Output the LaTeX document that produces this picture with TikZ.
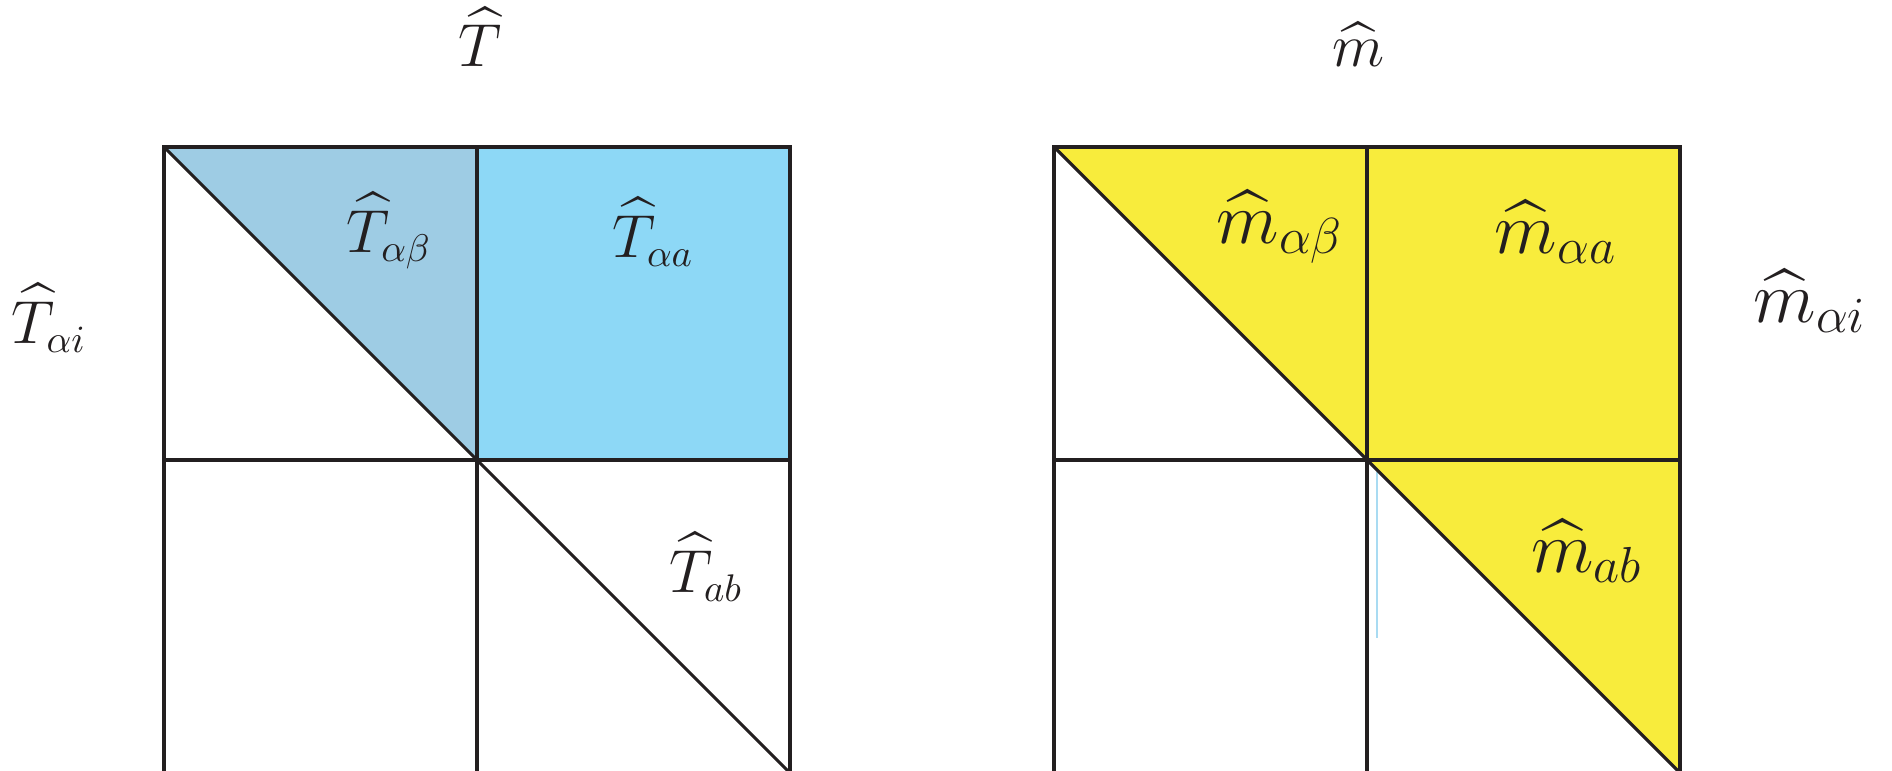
\documentclass[tikz,border=0pt]{standalone}
\usepackage{amsmath}
\definecolor{lightblk}{HTML}{231F20}
\definecolor{pairblue}{HTML}{9ECCE4}
\definecolor{mixblue}{HTML}{8DD8F6}
\definecolor{myellow}{HTML}{F8EC3C}
\definecolor{strayblue}{HTML}{A9DBF2}
\tikzset{
  gridline/.style={draw=lightblk,line width=0.9pt},
  lab/.style={inner sep=0pt,anchor=base,text=lightblk,font=\fontsize{16}{19}\selectfont},
  biglab/.style={lab,font=\fontsize{20}{24}\selectfont},
}
\begin{document}
\begin{tikzpicture}[x=0.01cm,y=-0.01cm]
  \useasboundingbox (0,0) rectangle (1892,770);
  % left block
  \fill[pairblue] (164,147) -- (477,147) -- (477,460) -- cycle;
  \fill[mixblue] (477,147) rectangle (790,460);
  \draw[gridline] (164,147) rectangle (790,773);
  \draw[gridline] (477,147) -- (477,773);
  \draw[gridline] (164,460) -- (790,460);
  \draw[gridline] (164,147) -- (790,773);
  \node[lab] (Thead) at (480,67) {$\widehat{T}$};
  \node[lab] (Talphai) at (49,343) {$\widehat{T}_{\alpha i}$};
  \node[lab] (Talphabeta) at (389,252) {$\widehat{T}_{\alpha\beta}$};
  \node[lab] (Talphaa) at (653,257) {$\widehat{T}_{\alpha a}$};
  \node[lab] (Tab) at (706,592) {$\widehat{T}_{ab}$};
  % right block
  \fill[myellow] (1054,147) -- (1680,147) -- (1680,773) -- cycle;
  \draw[strayblue,line width=0.4pt] (1377,472) -- (1377,638);
  \draw[gridline] (1054,147) rectangle (1680,773);
  \draw[gridline] (1367,147) -- (1367,773);
  \draw[gridline] (1054,460) -- (1680,460);
  \draw[gridline] (1054,147) -- (1680,773);
  \node[lab] (mhead) at (1358,67) {$\widehat{m}$};
  \node[biglab] (malphabeta) at (1280,243) {$\widehat{m}_{\alpha\beta}$};
  \node[biglab] (malphaa) at (1556,253) {$\widehat{m}_{\alpha a}$};
  \node[biglab,font=\fontsize{21}{25}\selectfont] (malphai) at (1810,322) {$\widehat{m}_{\alpha i}$};
  \node[biglab] (mab) at (1587,572) {$\widehat{m}_{ab}$};
\end{tikzpicture}
\end{document}
